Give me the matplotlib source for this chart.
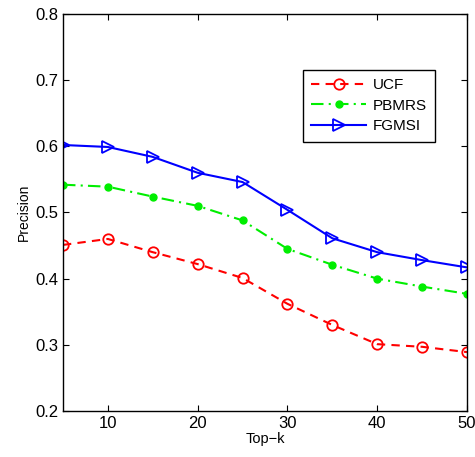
import numpy as np
import matplotlib
matplotlib.use('Agg')
import matplotlib.pyplot as plt

plt.rcParams['font.family'] = ['Liberation Sans', 'DejaVu Sans']

# data
topk = [5, 10, 15, 20, 25, 30, 35, 40, 45, 50]
ucf = [0.451, 0.460, 0.440, 0.422, 0.401, 0.362, 0.330, 0.301, 0.297, 0.289]
pbmrs = [0.542, 0.539, 0.524, 0.510, 0.488, 0.445, 0.421, 0.400, 0.388, 0.377]
fgmsi = [0.602, 0.599, 0.584, 0.560, 0.546, 0.504, 0.461, 0.440, 0.428, 0.417]
xticks = [10, 20, 30, 40, 50]
yticks = [0.2, 0.3, 0.4, 0.5, 0.6, 0.7, 0.8]

fig = plt.figure(figsize=(4.75, 4.57), dpi=100)
ax = fig.add_axes([0.1326, 0.1007, 0.8505, 0.8687])

ax.plot(topk, ucf, color='#ff0000', linestyle=(0, (4, 3)), lw=1.5,
        marker='o', markersize=7.5, fillstyle='none', mew=1.3, label='UCF')
ax.plot(topk, pbmrs, color='#00ee00', linestyle=(0, (6, 2.5, 1, 2.5)), lw=1.5,
        marker='o', markersize=5, mew=1.0, label='PBMRS')
ax.plot(topk, fgmsi, color='#0000ff', linestyle='-', lw=1.5,
        marker='>', markersize=8, fillstyle='none', mew=1.3, label='FGMSI')

ax.set_xlim(5, 50)
ax.set_ylim(0.2, 0.8)
ax.set_xticks(xticks)
ax.set_yticks(yticks)
ax.set_yticklabels(['%.1f' % v for v in yticks])
ax.tick_params(direction='in', top=True, right=True, labelsize=12, length=4)
for s in ax.spines.values():
    s.set_linewidth(1.0)

ax.set_xlabel('Top\u2212k', fontsize=10.5, labelpad=1)
ax.set_ylabel('Precision', fontsize=10, labelpad=3)

leg = ax.legend(loc='upper left', bbox_to_anchor=(0.594, 0.859), fontsize=11,
                fancybox=False, edgecolor='black', framealpha=1,
                borderaxespad=0, handlelength=3.6, handletextpad=0.4,
                borderpad=0.55, labelspacing=0.42)
leg.get_frame().set_linewidth(1.0)

plt.savefig('out.png', dpi=100)
